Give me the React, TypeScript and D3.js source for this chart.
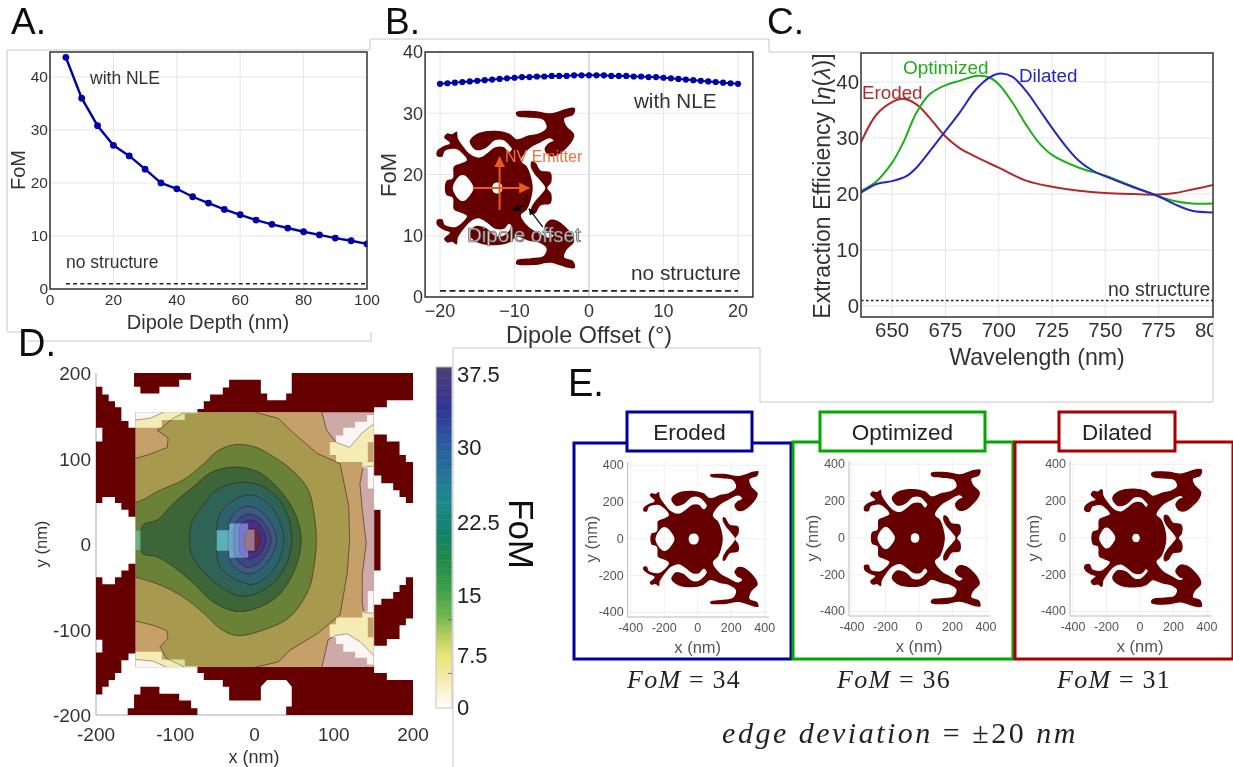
import React from "react";
import * as d3 from "d3";

type Pt = [number, number];

// ---------- Panel A
const depthNm = [5,10,15,20,25,30,35,40,45,50,55,60,65,70,75,80,85,90,95,100];
const depthFoM = [43.7,36,30.8,27.1,25.1,22.6,20,18.9,17.4,16.2,15,14,13,12.2,11.5,10.8,10.2,9.6,9.1,8.5];
const aXTicks = [0,20,40,60,80,100];
const aYTicks = [0,10,20,30,40];

// ---------- Panel B
const offsetDeg = [-20,-19,-18,-17,-16,-15,-14,-13,-12,-11,-10,-9,-8,-7,-6,-5,-4,-3,-2,-1,0,1,2,3,4,5,6,7,8,9,10,11,12,13,14,15,16,17,18,19,20];
const offsetFoM = [34.8,34.9,35.0,35.1,35.2,35.3,35.4,35.5,35.6,35.7,35.8,35.9,35.9,36.0,36.0,36.1,36.1,36.1,36.2,36.2,36.2,36.2,36.2,36.1,36.1,36.1,36.0,36.0,35.9,35.9,35.8,35.7,35.6,35.5,35.4,35.3,35.2,35.1,35.0,34.9,34.8];
const bXTicks = [-20,-10,0,10,20];
const bYTicks = [0,10,20,30,40];

// ---------- Panel C
const erodedWl = [635.2,642.7,650,655.1,661.4,667.6,674.9,681.6,687.9,700,712.8,725,737.7,749.8,762.6,774.8,782.9,790.7,800.5];
const erodedEff = [29.1,34.2,36.4,37,36,33.6,30.3,28.2,26.9,24.7,22.4,21.3,20.6,20.2,20,19.9,20.2,20.8,21.6];
const optimizedWl = [635.2,642.7,650,655.1,661.4,667.6,674.9,681.6,690,695.6,700,706.5,712.8,719,725,737.7,749.8,762.6,774.8,782.9,790.7,800.5];
const optimizedEff = [20.5,22.3,25.6,29.1,34.5,37.8,39.4,40.2,41.1,40.8,39.6,36.3,32.4,29.1,27,24.7,23.3,21.4,19.6,18.7,18.3,18.3];
const dilatedWl = [635.2,642.7,650,656.7,661.4,667.6,674.9,681.6,689.4,695.6,701,706.5,712.8,719,725,731.5,737.7,744,749.8,762.6,774.8,782.9,790.7,800.5];
const dilatedEff = [20.2,21.8,22.3,23.2,24.7,27.6,31.2,34.5,38.7,40.8,41.5,40.9,38.4,35.1,31.8,28.5,25.9,24.2,23.2,21.3,19.6,18.1,17,16.7];
const cXTicks = [650,675,700,725,750,775,800];
const cYTicks = [0,10,20,30,40];

// ---------- Panel D: periodic structure around the contour window (nm)
const blockTopLeft: Pt[] = [[-152,200],[-80,200],[-80,192],[-95,192],[-95,184],[-120,184],[-120,176],[-144,176],[-144,184],[-152,184]];
const blockTopRight: Pt[] = [[47,200],[200,200],[200,168],[167,168],[167,160],[151,160],[151,154],[-72,154],[-72,158],[-64,158],[-64,167],[-56,167],[-56,175],[-40,175],[-40,183],[-32,183],[-32,192],[8,192],[8,176],[16,176],[16,168],[40,168],[40,176],[47,176]];
const blockBottomRight: Pt[] = [[-72,-144],[-72,-151],[-64,-151],[-64,-159],[-40,-159],[-40,-167],[-32,-167],[-32,-183],[8,-183],[8,-167],[16,-159],[40,-159],[47,-167],[47,-190],[40,-190],[40,-200],[200,-200],[200,-159],[167,-159],[167,-151],[151,-151],[151,-144]];
const blockBottomLeft: Pt[] = [[-160,-200],[-160,-192],[-152,-192],[-152,-176],[-144,-176],[-144,-167],[-120,-167],[-120,-175],[-95,-175],[-95,-183],[-80,-183],[-80,-192],[-72,-192],[-72,-200]];
const blockLeftUpper: Pt[] = [[-200,184],[-192,184],[-192,175],[-184,175],[-184,167],[-176,167],[-176,160],[-168,160],[-168,144],[-159,144],[-159,136],[-150,136],[-150,32],[-159,32],[-159,40],[-168,40],[-168,48],[-176,48],[-176,55],[-192,55],[-192,48],[-200,48],[-200,120],[-192,120],[-192,136],[-200,136]];
const blockLeftLower: Pt[] = [[-200,-39],[-192,-39],[-192,-47],[-176,-47],[-176,-39],[-168,-39],[-168,-31],[-159,-31],[-159,-23],[-150,-23],[-150,-128],[-159,-128],[-159,-136],[-168,-136],[-168,-151],[-176,-151],[-176,-159],[-184,-159],[-184,-167],[-192,-167],[-192,-176],[-200,-176],[-200,-127],[-192,-127],[-192,-112],[-200,-112]];
const blockRightUpper: Pt[] = [[151,128],[167,128],[167,120],[183,120],[183,104],[191,104],[191,96],[200,96],[200,48],[191,48],[191,55],[183,55],[183,63],[175,63],[175,71],[160,71],[160,80],[151,80]];
const blockRightMiddle: Pt[] = [[151,40],[159,40],[159,-31],[151,-31]];
const blockRightLower: Pt[] = [[151,-71],[160,-71],[160,-64],[175,-64],[175,-56],[183,-56],[183,-48],[191,-48],[191,-39],[200,-39],[200,-87],[191,-87],[191,-95],[183,-95],[183,-111],[167,-111],[167,-119],[151,-119]];
const structureBlocks = [blockTopLeft,blockTopRight,blockBottomRight,blockBottomLeft,blockLeftUpper,blockLeftLower,blockRightUpper,blockRightMiddle,blockRightLower];

// white gaps of the structure under the translucent contours
const gapTopLeft: Pt[] = [[-151,155],[-72,155],[-72,153],[-88,153],[-88,145],[-117,145],[-117,136],[-151,136]];
const gapBottomLeft: Pt[] = [[-151,-145],[-72,-145],[-72,-143],[-88,-143],[-88,-135],[-117,-135],[-117,-126],[-151,-126]];
const gapTopRight: Pt[] = [[95,119],[103,119],[103,127],[112,127],[112,136],[127,136],[127,143],[142,143],[142,151],[151,151],[151,119],[143,119],[143,96],[151,96],[151,65],[143,65],[143,89],[136,89],[136,96],[103,96],[103,104],[95,104]];
const gapBottomRight: Pt[] = [[95,-109],[103,-109],[103,-117],[112,-117],[112,-126],[127,-126],[127,-133],[142,-133],[142,-141],[151,-141],[151,-109],[143,-109],[143,-86],[151,-86],[151,-55],[143,-55],[143,-79],[136,-79],[136,-86],[103,-86],[103,-94],[95,-94]];
const gapCentre: Pt[] = [[-48,16],[-32,16],[-32,24],[-8,24],[-8,17],[0,17],[0,-8],[-8,-8],[-8,-16],[-32,-16],[-32,-8],[-48,-8]];
const gapLeftEdge: Pt[] = [[-151,16],[-144,16],[-144,-8],[-151,-8]];
const structureGaps = [gapTopLeft,gapBottomLeft,gapTopRight,gapBottomRight,gapCentre,gapLeftEdge];

// contour outlines, outermost first (nm)
const contourTan: Pt[] = [[-170,145],[-150,145],[-132,147],[-113,155],[-113,165],[85,165],[85,154],[91,133],[103,119],[120,113],[136,130],[148,139],[170,142],[170,92],[150,91],[137,90],[133,71],[136,40],[141,1],[136,-36],[136,-69],[138,-80],[150,-81],[170,-82],[170,-132],[150,-130],[133,-114],[117,-105],[102,-107],[93,-112],[85,-144],[85,-160],[-113,-160],[-111,-144],[-128,-137],[-150,-135],[-170,-135]];
const contourOlive: Pt[] = [[-170,100],[-150,100],[-132,105],[-110,113],[-109,124],[-123,133],[-117,136],[-103,147],[-88,154],[-88,162],[1,162],[1,154],[30,147],[49,130],[79,106],[108,94],[119,44],[120,5],[117,-34],[108,-83],[79,-105],[45,-124],[30,-138],[1,-144],[1,-152],[-88,-152],[-88,-144],[-111,-134],[-119,-120],[-109,-110],[-111,-101],[-128,-95],[-150,-90],[-170,-90]];
const contourGreen: Pt[] = [[-175,53],[-150,49],[-119,63],[-90,75],[-64,94],[-48,108],[-27,116],[-1,114],[24,102],[49,85],[68,63],[75,36],[78,5],[75,-27],[68,-54],[45,-85],[16,-99],[-22,-107],[-43,-99],[-64,-81],[-90,-62],[-119,-48],[-150,-39],[-175,-35]];
const contourForest: Pt[] = [[-170,16],[-144,16],[-140,23],[-123,28],[-102,48],[-77,67],[-56,83],[-27,90],[3,85],[28,67],[49,40],[59,5],[49,-34],[28,-62],[3,-75],[-22,-79],[-52,-68],[-77,-46],[-102,-27],[-123,-15],[-140,-12],[-144,-8],[-170,-8]];
const contourDeep: Pt[] = [[-82,5],[-79,26],[-69,40],[-48,63],[-18,72],[11,67],[37,44],[47,5],[37,-30],[11,-54],[-18,-61],[-48,-46],[-73,-23],[-81,-7]];
const contourTeal: Pt[] = [[-48,5],[-43,36],[-18,55],[3,56],[24,40],[37,5],[24,-30],[-1,-47],[-22,-42],[-43,-27]];
const contourSlate: Pt[] = [[-33,5],[-29,32],[-10,44],[11,36],[28,5],[11,-27],[-8,-35],[-29,-23]];
const contourBlue: Pt[] = [[-26,5],[-24,24],[-10,35],[7,30],[21,5],[7,-21],[-10,-27],[-24,-15]];
const contourPurple: Pt[] = [[-19,5],[-18,22],[-5,28],[7,22],[14,5],[7,-11],[-8,-17],[-18,-11]];
const contourCore: Pt[] = [[-13,5],[-9,17],[2,17],[7,5],[2,-7],[-9,-9]];
const contourOutlines = [contourTan,contourOlive,contourGreen,contourForest,contourDeep,contourTeal,contourSlate,contourBlue,contourPurple,contourCore];
const contourColors = ["#eee496","#c4dc72","#6dba50","#2b924f","#168d79","#158d9d","#2981ba","#2a64ba","#3f40c1","#6c395b"];
const contourSmooth = [false,false,true,true,true,true,true,true,true,true];
const dXTicks = [-200,-100,0,100,200];
const dYTicks = [-200,-100,0,100,200];

// colour bar
const barStopValues = [0,3.45,5.65,7.9,10.06,12.98,16.3,19.2,22.5,26.1,29.4,32.7,36,37.3];
const barStopColors = ["#fffefa","#f3e9a8","#e9e678","#b5cc5e","#6db550","#3e9f48","#1f8a4a","#14806a","#1d8a8a","#266f9a","#2c57a0","#2f3595","#463a80","#4b3f70"];
const barLabelValues = [0,7.5,15,22.5,30,37.5];
const barLabelStrings = ["0","7.5","15","22.5","30","37.5"];
const barMinorTicks = [3.8,9.7,15.5,21.1,26.8];

// ---------- shared device outline, upper half from the left end to the right end (nm)
const deviceUpper: Pt[] = [[-290,0],[-282,33],[-250,45],[-244,100],[-214,113],[-178,131],[-204,164],[-234,182],[-258,182],[-290,173],[-304,146],[-330,149],[-330,173],[-298,195],[-264,209],[-294,237],[-278,255],[-254,251],[-230,264],[-224,233],[-198,195],[-158,155],[-114,142],[-74,164],[-34,191],[10,191],[36,167],[50,182],[36,200],[6,224],[-34,224],[-84,186],[-134,178],[-164,218],[-124,255],[-34,268],[36,255],[76,228],[136,246],[186,255],[226,282],[210,318],[146,328],[76,337],[72,355],[166,360],[246,349],[336,373],[370,373],[362,342],[316,324],[326,291],[366,251],[356,218],[286,155],[242,149],[216,182],[236,209],[262,222],[242,233],[186,209],[136,182],[96,127],[126,100],[146,55],[156,0]];
const crescentUpper: Pt[] = [[220,0],[196,33],[166,64],[146,100],[150,124],[170,118],[196,82],[246,73],[250,27],[230,0]];
const holeOuterUpper: Pt[] = [[-250,0],[-212,58],[-188,58],[-146,8],[-146,0]];
const holeInnerUpper: Pt[] = [[-50,0],[-42,20],[-24,26],[-6,20],[2,0]];
const miniTicks = [-400,-200,0,200,400];
const miniPanels = ["Eroded","Optimized","Dilated"];
const miniFoM = ["34","36","31"];
const miniColors = ["#0000a0","#00a800","#a80000"];

// ---------- Style
const SANS = "'Liberation Sans', Arial, sans-serif";
const SERIF = "'Liberation Serif', serif";
const INK = "#333";
const DARK_RED = "#660000";
const LINE_BLUE = "#0000a8";
const GRID = "#e6e6e6";
const FRAME = "#c8c8c8";

const linePath = d3.line<Pt>();
const smoothClosed = d3.line<Pt>().curve(d3.curveCatmullRomClosed.alpha(0.5));
const zip = (a: number[], b: number[]): Pt[] => a.map((v, i) => [v, b[i]]);
const mirrored = (upper: Pt[]): Pt[] => [...upper, ...upper.slice(1, -1).reverse().map(([x, y]) => [x, -y] as Pt)];

type Sc = d3.ScaleLinear<number, number>;

function Device({ sx, sy, strokeColor, strokeWidth }: { sx: Sc; sy: Sc; strokeColor?: string; strokeWidth?: number }) {
  const toPath = (upper: Pt[]) => smoothClosed(mirrored(upper).map(([x, y]) => [sx(x), sy(y)] as Pt)) as string;
  const d = [deviceUpper, holeOuterUpper, holeInnerUpper].map(toPath).join(" ");
  return (
    <g fill={DARK_RED} fillRule="evenodd" stroke={strokeColor ?? "none"} strokeWidth={strokeWidth ?? 0} strokeLinejoin="round">
      <path d={d} />
      <path d={toPath(crescentUpper)} />
    </g>
  );
}

function Plot({ sx, sy, xTicks, yTicks, size, xLabelY, yLabelX, xFmt, gridStrongX }: {
  sx: Sc; sy: Sc; xTicks: number[]; yTicks: number[]; size: number; xLabelY: number; yLabelX: number; xFmt?: (v: number) => string; gridStrongX?: number;
}) {
  const [x0, x1] = sx.range();
  const [y0, y1] = sy.range();
  return (
    <g>
      {xTicks.filter((t) => sx(t) < x1).map((t) => (
        <line key={"gx" + t} x1={sx(t)} x2={sx(t)} y1={y0} y2={y1} stroke={t === gridStrongX ? "#bbb" : GRID} strokeWidth={1} />
      ))}
      {yTicks.map((t) => (
        <line key={"gy" + t} x1={x0} x2={x1} y1={sy(t)} y2={sy(t)} stroke={GRID} strokeWidth={1} />
      ))}
      <g fontFamily={SANS} fontSize={size} fill={INK}>
        {xTicks.map((t) => (
          <text key={"tx" + t} x={sx(t)} y={xLabelY} textAnchor="middle">{xFmt ? xFmt(t) : t}</text>
        ))}
        {yTicks.map((t) => (
          <text key={"ty" + t} x={yLabelX} y={sy(t) + size * 0.35} textAnchor="end">{t}</text>
        ))}
      </g>
    </g>
  );
}

function Box({ sx, sy }: { sx: Sc; sy: Sc }) {
  const [x0, x1] = sx.range();
  const [y0, y1] = sy.range();
  return <rect x={x0} y={y1} width={x1 - x0} height={y0 - y1} fill="none" stroke="#333" strokeWidth={1.5} />;
}

function PanelA() {
  const sx = d3.scaleLinear().domain([0, 100]).range([50, 367]);
  const sy = d3.scaleLinear().domain([0, 44.7]).range([289, 52]);
  const pts = zip(depthNm, depthFoM).map(([x, y]) => [sx(x), sy(y)] as Pt);
  return (
    <g>
      <clipPath id="clipA"><rect x={30} y={40} width={337.5} height={260} /></clipPath>
      <Plot sx={sx} sy={sy} xTicks={aXTicks} yTicks={aYTicks} size={15.5} xLabelY={305} yLabelX={48} />
      <g clipPath="url(#clipA)">
        <path d={linePath(pts) as string} fill="none" stroke={LINE_BLUE} strokeWidth={2.4} />
        {pts.map((p, i) => <circle key={i} cx={p[0]} cy={p[1]} r={3.4} fill={LINE_BLUE} />)}
        <line x1={sx(5)} x2={sx(100)} y1={sy(1)} y2={sy(1)} stroke="#222" strokeWidth={1.6} strokeDasharray="4 3.2" />
      </g>
      <Box sx={sx} sy={sy} />
      <g fontFamily={SANS} fill={INK}>
        <text x={90} y={84} fontSize={17.5}>with NLE</text>
        <text x={66} y={268} fontSize={17.5}>no structure</text>
        <text x={208} y={329} fontSize={20} textAnchor="middle">Dipole Depth (nm)</text>
        <text transform="translate(25,170) rotate(-90)" fontSize={20} textAnchor="middle">FoM</text>
      </g>
    </g>
  );
}

function PanelB() {
  const sx = d3.scaleLinear().domain([-22, 22]).range([425.1, 752.9]);
  const sy = d3.scaleLinear().domain([0, 40]).range([297, 52]);
  const pts = zip(offsetDeg, offsetFoM).map(([x, y]) => [sx(x), sy(y)] as Pt);
  const dx = d3.scaleLinear().domain([0, 100]).range([502, 521.7]);
  const dy = d3.scaleLinear().domain([0, 100]).range([188, 166.6]);
  const orange = "#e85a20";
  const arc = d3.line<Pt>().curve(d3.curveBasis);
  return (
    <g>
      <defs>
        <marker id="arrowOrange" viewBox="0 0 10 10" refX="9" refY="5" markerWidth="5.5" markerHeight="5.5" orient="auto-start-reverse">
          <path d="M0,0 L10,5 L0,10 Z" fill={orange} />
        </marker>
        <marker id="arrowBlack" viewBox="0 0 10 10" refX="9" refY="5" markerWidth="5" markerHeight="5" orient="auto-start-reverse">
          <path d="M0,0 L10,5 L0,10 Z" fill="#000" />
        </marker>
      </defs>
      <Plot sx={sx} sy={sy} xTicks={bXTicks} yTicks={bYTicks} size={18} xLabelY={317} yLabelX={423} xFmt={(v) => (v < 0 ? "\u2212" + Math.abs(v) : String(v))} gridStrongX={0} />
      <Device sx={dx} sy={dy} />
      <path d={linePath(pts) as string} fill="none" stroke={LINE_BLUE} strokeWidth={2} />
      {pts.map((p, i) => <circle key={i} cx={p[0]} cy={p[1]} r={3.1} fill={LINE_BLUE} />)}
      <line x1={sx(-20)} x2={sx(20)} y1={sy(1)} y2={sy(1)} stroke="#222" strokeWidth={1.6} strokeDasharray="6 3.5" />
      <Box sx={sx} sy={sy} />
      <line x1={sx(-15.6)} x2={sx(-8.05)} y1={sy(17.8)} y2={sy(17.8)} stroke={orange} strokeWidth={2} markerEnd="url(#arrowOrange)" />
      <line x1={sx(-12)} x2={sx(-12)} y1={sy(14.2)} y2={sy(22.8)} stroke={orange} strokeWidth={2} markerEnd="url(#arrowOrange)" />
      <path d={arc([[sx(-8.3), sy(16.6)], [sx(-8.5), sy(15)], [sx(-10.2), sy(14.2)]]) as string} fill="none" stroke="#000" strokeWidth={1.6} strokeDasharray="2 2" markerEnd="url(#arrowBlack)" />
      <line x1={sx(-6.2)} x2={sx(-8.05)} y1={sy(11.4)} y2={sy(14.4)} stroke="#111" strokeWidth={1.3} markerEnd="url(#arrowBlack)" />
      <g fontFamily={SANS}>
        <text x={505} y={162} fontSize={16} fill="#f07040">NV Emitter</text>
        <text x={467} y={242} fontSize={20.5} fill="#ccc" stroke="#666" strokeWidth={0.7}>Dipole offset</text>
        <g fill={INK}>
          <text x={634} y={108} fontSize={20.6}>with NLE</text>
          <text x={631} y={280} fontSize={20.8}>no structure</text>
          <text x={589} y={343} fontSize={23.4} textAnchor="middle">Dipole Offset (°)</text>
          <text transform="translate(396,175) rotate(-90)" fontSize={22} textAnchor="middle">FoM</text>
        </g>
      </g>
    </g>
  );
}

function PanelC() {
  const sx = d3.scaleLinear().domain([635.4, 800.5]).range([861, 1213]);
  const sy = d3.scaleLinear().domain([-1.96, 45.18]).range([317, 53]);
  const curve = d3.line<Pt>().curve(d3.curveCatmullRom.alpha(0.5));
  const series: [number[], number[], string][] = [
    [erodedWl, erodedEff, "#b02a2a"],
    [optimizedWl, optimizedEff, "#1fae1f"],
    [dilatedWl, dilatedEff, "#2626c0"],
  ];
  return (
    <g>
      <clipPath id="clipC"><rect x={861} y={53} width={352} height={264} /></clipPath>
      <clipPath id="clipCTicks"><rect x={850} y={317} width={363} height={30} /></clipPath>
      <clipPath id="clipCY"><rect x={800} y={53} width={60} height={280} /></clipPath>
      <g clipPath="url(#clipC)">
        {cXTicks.slice(0, -1).map((t) => <line key={t} x1={sx(t)} x2={sx(t)} y1={53} y2={317} stroke={GRID} />)}
        {cYTicks.map((t) => <line key={t} x1={861} x2={1213} y1={sy(t)} y2={sy(t)} stroke={GRID} />)}
        {series.map(([w, v, c], i) => (
          <path key={i} d={curve(zip(w, v).map(([x, y]) => [sx(x), sy(y)] as Pt)) as string} fill="none" stroke={c} strokeWidth={2} />
        ))}
        <line x1={861} x2={1213} y1={sy(1)} y2={sy(1)} stroke="#222" strokeWidth={1.5} strokeDasharray="2.6 2.4" />
      </g>
      <Box sx={sx} sy={sy} />
      <g fontFamily={SANS} fill={INK}>
        <g clipPath="url(#clipCTicks)" fontSize={20.4}>
          {cXTicks.map((t) => <text key={t} x={sx(t)} y={337} textAnchor="middle">{t}</text>)}
        </g>
        <g fontSize={20.4}>
          {cYTicks.map((t) => <text key={t} x={859} y={sy(t) + 7} textAnchor="end">{t}</text>)}
        </g>
        <g clipPath="url(#clipCY)">
          <text transform="translate(830,186) rotate(-90)" fontSize={23} textAnchor="middle">Extraction Efficiency [<tspan fontStyle="italic">η</tspan>(<tspan fontStyle="italic">λ</tspan>)]</text>
        </g>
        <text x={1037} y={365} fontSize={23.2} textAnchor="middle">Wavelength (nm)</text>
        <text x={862} y={99} fontSize={18.8} fill="#b02a2a">Eroded</text>
        <text x={903} y={74} fontSize={19} fill="#1fae1f">Optimized</text>
        <text x={1019} y={82} fontSize={18.8} fill="#2626c0">Dilated</text>
        <text x={1108} y={296} fontSize={19.4}>no structure</text>
      </g>
    </g>
  );
}

function PanelD() {
  const sx = d3.scaleLinear().domain([-200, 200]).range([96, 413]);
  const sy = d3.scaleLinear().domain([-200, 200]).range([715, 373]);
  const toPx = (p: Pt[]) => p.map(([x, y]) => [sx(x), sy(y)] as Pt);
  const poly = (p: Pt[]) => (linePath(toPx(p)) as string) + "Z";
  const rx = sx(-150), rw = sx(150) - sx(-150), ry = sy(154), rh = sy(-144) - sy(154);
  const barColor = d3.scaleLinear<string>().domain(barStopValues).range(barStopColors);
  const barY = d3.scaleLinear().domain([0, 37.5]).range([708, 367]);
  const barLabelY = d3.scaleLinear().domain(barLabelValues).range([707, 655, 595, 522, 447, 374]);
  const barSteps = d3.range(0, 37.5, 0.25);
  return (
    <g>
      <clipPath id="clipRegion"><rect x={rx} y={ry} width={rw} height={rh} /></clipPath>
      <line x1={96} x2={96} y1={373} y2={715} stroke="#aaa" />
      <line x1={96} x2={413} y1={715} y2={715} stroke="#aaa" />
      {structureBlocks.map((b, i) => <path key={i} d={poly(b)} fill={DARK_RED} />)}
      <rect x={rx} y={ry} width={rw} height={rh} fill={DARK_RED} />
      <g clipPath="url(#clipRegion)">
        {structureGaps.map((g, i) => <path key={i} d={poly(g)} fill="#fff" />)}
        <g opacity={0.7}>
          <rect x={rx} y={ry} width={rw} height={rh} fill="#faf3f0" />
          {contourOutlines.map((c, i) => (
            <path key={i} d={contourSmooth[i] ? (smoothClosed(toPx(c)) as string) : poly(c)} fill={contourColors[i]} stroke="#2a2a2a" strokeWidth={0.8} strokeOpacity={0.75} />
          ))}
        </g>
      </g>
      <g fontFamily={SANS} fill={INK}>
        <g fontSize={19}>
          {dXTicks.map((t) => <text key={t} x={sx(t)} y={741} textAnchor="middle">{t}</text>)}
          {dYTicks.map((t) => <text key={t} x={91} y={sy(t) + 7} textAnchor="end">{t}</text>)}
        </g>
        <text x={254} y={763} fontSize={18} textAnchor="middle">x (nm)</text>
        <text transform="translate(47,544) rotate(-90)" fontSize={16.5} textAnchor="middle">y (nm)</text>
      </g>
      {barSteps.map((v) => (
        <rect key={v} x={436} width={16} y={barY(v + 0.25)} height={barY(v) - barY(v + 0.25) + 0.5} fill={barColor(v)} />
      ))}
      <rect x={436} y={367} width={16} height={341} fill="none" stroke="#c4c4c4" strokeWidth={1} />
      {barMinorTicks.map((v) => <line key={v} x1={448} x2={452} y1={barY(v)} y2={barY(v)} stroke="#555" strokeWidth={0.7} />)}
      <g fontFamily={SANS} fill="#222" fontSize={22}>
        {barLabelValues.map((v, i) => <text key={v} x={457} y={barLabelY(v) + 8} >{barLabelStrings[i]}</text>)}
        <text transform="translate(509,534) rotate(90)" fontSize={35} textAnchor="middle" fill="#111">FoM</text>
      </g>
    </g>
  );
}

function MiniPanel({ index, left, right, top, bottom, tabLeft, tabRight, x0, y0, foMx }: {
  index: number; left: number; right: number; top: number; bottom: number; tabLeft: number; tabRight: number; x0: number; y0: number; foMx: number;
}) {
  const color = miniColors[index];
  const sx = d3.scaleLinear().domain([-418, 425]).range([x0 - 70, x0 + 71.2]);
  const sy = d3.scaleLinear().domain([-425, 418]).range([y0 + 78, y0 - 77]);
  const [ax0, ax1] = sx.range();
  const [ay0, ay1] = sy.range();
  const mx = d3.scaleLinear().domain([0, 100]).range([x0, x0 + 16.6]);
  const my = d3.scaleLinear().domain([0, 100]).range([y0, y0 - 18.3]);
  const strokeColor = index === 0 ? "#fff" : index === 2 ? DARK_RED : undefined;
  const strokeWidth = index === 0 ? 1.6 : index === 2 ? 1.1 : 0;
  const tabMid = (tabLeft + tabRight) / 2;
  return (
    <g>
      <rect x={left} y={top} width={right - left} height={bottom - top} fill="#fff" stroke={color} strokeWidth={3} />
      <rect x={tabLeft} y={412} width={tabRight - tabLeft} height={39} fill="#fff" stroke={color} strokeWidth={3} />
      <text x={tabMid} y={440} fontFamily={SANS} fontSize={22.5} fill="#222" textAnchor="middle">{miniPanels[index]}</text>
      {miniTicks.map((t) => <line key={"a" + t} x1={sx(t)} x2={sx(t)} y1={ay0} y2={ay1} stroke="#efefef" />)}
      {miniTicks.map((t) => <line key={"b" + t} x1={ax0} x2={ax1} y1={sy(t)} y2={sy(t)} stroke="#efefef" />)}
      <line x1={ax0} x2={ax0} y1={ay0} y2={ay1} stroke="#bbb" />
      <line x1={ax0} x2={ax1} y1={ay0} y2={ay0} stroke="#bbb" />
      <Device sx={mx} sy={my} strokeColor={strokeColor} strokeWidth={strokeWidth} />
      <g fontFamily={SANS} fill="#555" fontSize={12.5}>
        {miniTicks.map((t) => <text key={"x" + t} x={sx(t)} y={ay0 + 15} textAnchor="middle">{t}</text>)}
        {miniTicks.map((t) => <text key={"y" + t} x={ax0 - 4} y={sy(t) + 4} textAnchor="end">{t}</text>)}
        <text x={x0} y={ay0 + 36} fontSize={16.5} textAnchor="middle">x (nm)</text>
        <text transform={`translate(${ax0 - 31},${y0}) rotate(-90)`} fontSize={16.5} textAnchor="middle">y (nm)</text>
      </g>
      <text x={foMx} y={688} fontFamily={SERIF} fontSize={26} fill="#222" textAnchor="middle" letterSpacing={1.2}>
        <tspan fontStyle="italic">FoM</tspan> = {miniFoM[index]}
      </text>
    </g>
  );
}

function PanelE() {
  return (
    <g>
      <MiniPanel index={0} left={574} right={791} top={443} bottom={659} tabLeft={627} tabRight={752} x0={697.7} y0={539} foMx={684} />
      <MiniPanel index={1} left={793} right={1013} top={442} bottom={659} tabLeft={820} tabRight={985} x0={919} y0={538} foMx={894} />
      <MiniPanel index={2} left={1015} right={1233} top={442} bottom={659} tabLeft={1059} tabRight={1175} x0={1140} y0={538} foMx={1114} />
      <text x={900} y={743} fontFamily={SERIF} fontSize={30} fontStyle="italic" fill="#222" textAnchor="middle" letterSpacing={2.5}>
        edge deviation <tspan fontStyle="normal">= ±20</tspan> nm
      </text>
    </g>
  );
}

const frameSegments: [number, number, number, number][] = [
  [7, 50, 370, 50], [7, 50, 7, 332], [7, 332, 42, 332], [27, 341, 371, 341], [371, 332, 371, 341],
  [370, 39, 370, 50], [370, 39, 769, 39], [769, 39, 769, 52], [769, 52, 861, 52],
  [453, 348, 760, 348], [453, 348, 453, 767], [760, 348, 760, 402], [760, 402, 1213, 402], [1213, 317, 1213, 402],
];
const panelLetters: [string, number, number, number][] = [
  ["A.", 11, 34, 37], ["B.", 385, 34, 37], ["C.", 767, 34, 37], ["D.", 18, 356, 38], ["E.", 568, 396, 38],
];

export default function App() {
  return (
    <svg width={1233} height={767} viewBox="0 0 1233 767" style={{ position: "absolute", left: 0, top: 0, background: "#fff" }}>
      <defs>
        <filter id="soft" x="0" y="0" width="100%" height="100%">
          <feGaussianBlur stdDeviation="0.4" />
        </filter>
      </defs>
      <g filter="url(#soft)">
        <rect x={0} y={0} width={1233} height={767} fill="#fff" />
        <g stroke={FRAME} strokeWidth={1}>
          {frameSegments.map((s, i) => <line key={i} x1={s[0]} y1={s[1]} x2={s[2]} y2={s[3]} />)}
        </g>
        <PanelA />
        <PanelB />
        <PanelC />
        <PanelD />
        <PanelE />
        <g fontFamily={SANS} fill="#111">
          {panelLetters.map(([t, x, y, fs]) => <text key={t} x={x} y={y} fontSize={fs}>{t}</text>)}
        </g>
      </g>
    </svg>
  );
}
